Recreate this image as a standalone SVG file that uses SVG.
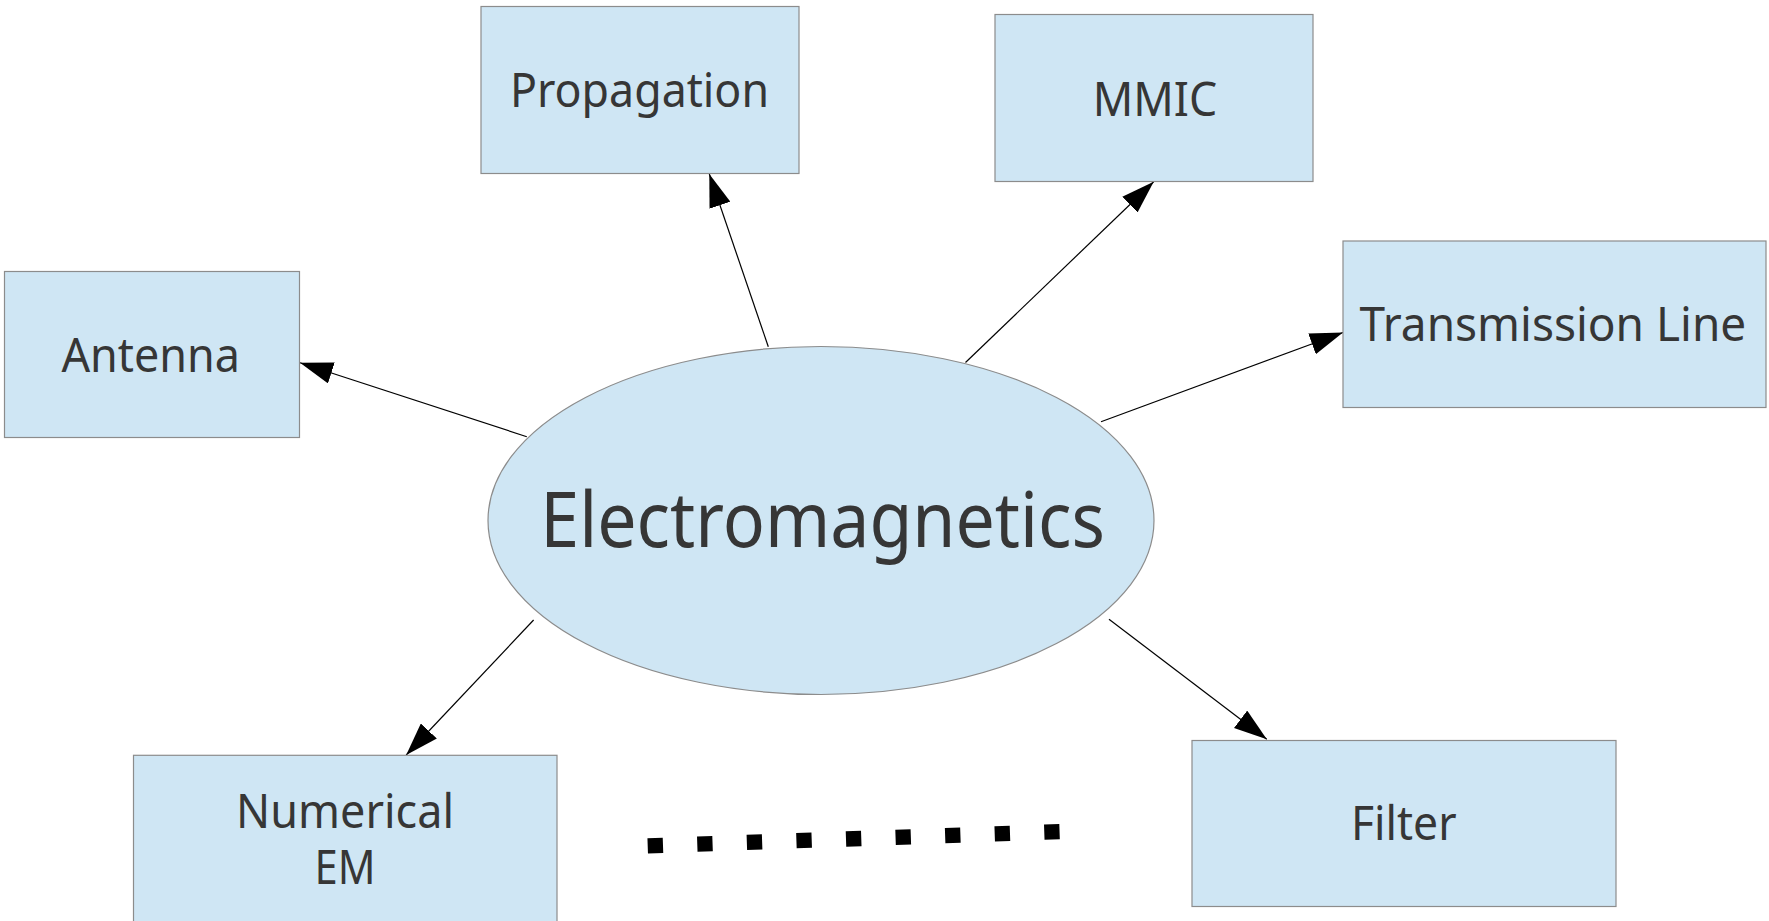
<svg xmlns="http://www.w3.org/2000/svg" width="1769" height="921" viewBox="0 0 1769 921">
<style>
.box{fill:#cfe6f4;stroke:#8c8c8c;stroke-width:1.2}
.lbl{font-family:"Noto Sans","Open Sans","DejaVu Sans",sans-serif;font-size:48px;fill:#363636;text-anchor:middle}
.big{font-size:76px}
.conn{stroke:#000;stroke-width:1.2;fill:none;marker-end:url(#arr)}
</style>
<defs>
<marker id="arr" markerUnits="userSpaceOnUse" markerWidth="33" markerHeight="22" refX="33" refY="11" orient="auto" viewBox="0 0 33 22">
<path d="M0,0 L33,11 L0,22 z" fill="#000"/>
</marker>
</defs>
<g id="connectors">
<line class="conn" x1="768.3" y1="346.7" x2="709.3" y2="174"/>
<line class="conn" x1="965.5" y1="362.5" x2="1153.7" y2="181.7"/>
<line class="conn" x1="526.8" y1="436.7" x2="300" y2="362.7"/>
<line class="conn" x1="1101" y1="421.7" x2="1343" y2="332.5"/>
<line class="conn" x1="533.6" y1="620" x2="406.2" y2="755"/>
<line class="conn" x1="1109" y1="619.3" x2="1266.8" y2="739.3"/>
</g>
<g id="electromagnetics">
<ellipse class="box" cx="821" cy="520.5" rx="333" ry="174"/>
<text class="lbl big" x="822.7" y="547.3" textLength="564.7" lengthAdjust="spacingAndGlyphs">Electromagnetics</text>
</g>
<g id="propagation">
<rect class="box" x="481" y="6.5" width="318" height="167"/>
<text class="lbl" x="639.5" y="107.3" textLength="259" lengthAdjust="spacingAndGlyphs">Propagation</text>
</g>
<g id="mmic">
<rect class="box" x="995" y="14.5" width="318" height="167"/>
<text class="lbl" x="1155" y="115.7" textLength="124.6" lengthAdjust="spacingAndGlyphs">MMIC</text>
</g>
<g id="antenna">
<rect class="box" x="4.5" y="271.5" width="295" height="166"/>
<text class="lbl" x="150.7" y="371.7" textLength="178.6" lengthAdjust="spacingAndGlyphs">Antenna</text>
</g>
<g id="transmission-line">
<rect class="box" x="1343" y="241" width="423" height="166.5"/>
<text class="lbl" x="1552.9" y="341" textLength="386.7" lengthAdjust="spacingAndGlyphs">Transmission Line</text>
</g>
<g id="numerical-em">
<rect class="box" x="133.5" y="755.3" width="423.5" height="170"/>
<text class="lbl" x="345" y="828.3" textLength="218" lengthAdjust="spacingAndGlyphs">Numerical</text>
<text class="lbl" x="345" y="884" textLength="61" lengthAdjust="spacingAndGlyphs">EM</text>
</g>
<g id="filter">
<rect class="box" x="1192" y="740.5" width="424" height="166"/>
<text class="lbl" x="1403.8" y="840" textLength="105.6" lengthAdjust="spacingAndGlyphs">Filter</text>
</g>
<g id="ellipsis">
<line x1="647.7" y1="845.8" x2="1059.7" y2="831.7" stroke="#000" stroke-width="15.3" stroke-dasharray="15.3 34.3"/>
</g>
</svg>
